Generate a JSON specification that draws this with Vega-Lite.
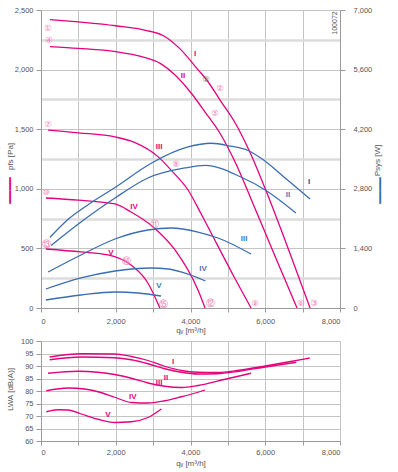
{
  "$schema": "https://vega.github.io/schema/vega-lite/v6.json",
  "autosize": {"type": "pad"},
  "padding": {"left": 4, "top": 6, "right": 5, "bottom": 5},
  "spacing": 2,
  "config": {
    "view": {"stroke": null},
    "font": "Liberation Sans",
    "axis": {
      "labelFont": "Liberation Sans", "labelFontSize": 7.5, "labelColor": "#555555", "labelOverlap": false,
      "titleFont": "Liberation Sans", "titleFontSize": 8, "titleColor": "#555555", "titleFontWeight": "normal",
      "domainColor": "#9a9a9a", "tickColor": "#9a9a9a", "gridColor": "#c4c4c4", "gridWidth": 1
    }
  },
  "datasets": {
    "pressure": [
      {"curve": "I", "q": 240, "p": 2420}, {"curve": "I", "q": 1000, "p": 2400}, {"curve": "I", "q": 2000, "p": 2368}, {"curve": "I", "q": 2800, "p": 2330}, {"curve": "I", "q": 3300, "p": 2280}, {"curve": "I", "q": 3700, "p": 2180}, {"curve": "I", "q": 4200, "p": 2000}, {"curve": "I", "q": 4415, "p": 1921}, {"curve": "I", "q": 4800, "p": 1740}, {"curve": "I", "q": 5200, "p": 1550}, {"curve": "I", "q": 5600, "p": 1300}, {"curve": "I", "q": 6000, "p": 1000}, {"curve": "I", "q": 6600, "p": 510}, {"curve": "I", "q": 7200, "p": 0},
      {"curve": "II", "q": 240, "p": 2193}, {"curve": "II", "q": 1000, "p": 2178}, {"curve": "II", "q": 2000, "p": 2150}, {"curve": "II", "q": 2700, "p": 2108}, {"curve": "II", "q": 3200, "p": 2050}, {"curve": "II", "q": 3600, "p": 1950}, {"curve": "II", "q": 4000, "p": 1810}, {"curve": "II", "q": 4400, "p": 1640}, {"curve": "II", "q": 4800, "p": 1460}, {"curve": "II", "q": 5200, "p": 1220}, {"curve": "II", "q": 5600, "p": 930}, {"curve": "II", "q": 6200, "p": 480}, {"curve": "II", "q": 6850, "p": 0},
      {"curve": "III", "q": 190, "p": 1493}, {"curve": "III", "q": 1000, "p": 1470}, {"curve": "III", "q": 1980, "p": 1435}, {"curve": "III", "q": 2500, "p": 1390}, {"curve": "III", "q": 3130, "p": 1270}, {"curve": "III", "q": 3500, "p": 1150}, {"curve": "III", "q": 3934, "p": 990}, {"curve": "III", "q": 4300, "p": 780}, {"curve": "III", "q": 4700, "p": 540}, {"curve": "III", "q": 5150, "p": 270}, {"curve": "III", "q": 5620, "p": 0},
      {"curve": "IV", "q": 130, "p": 923}, {"curve": "IV", "q": 1000, "p": 905}, {"curve": "IV", "q": 1980, "p": 873}, {"curve": "IV", "q": 2410, "p": 805}, {"curve": "IV", "q": 3000, "p": 680}, {"curve": "IV", "q": 3586, "p": 487}, {"curve": "IV", "q": 4200, "p": 151}, {"curve": "IV", "q": 4390, "p": 0},
      {"curve": "V", "q": 130, "p": 495}, {"curve": "V", "q": 1070, "p": 470}, {"curve": "V", "q": 1790, "p": 445}, {"curve": "V", "q": 2410, "p": 360}, {"curve": "V", "q": 2860, "p": 210}, {"curve": "V", "q": 3180, "p": 0}
    ],
    "power": [
      {"curve": "I", "q": 240, "w": 1660}, {"curve": "I", "q": 720, "w": 2080}, {"curve": "I", "q": 1300, "w": 2450}, {"curve": "I", "q": 1980, "w": 2830}, {"curve": "I", "q": 2950, "w": 3400}, {"curve": "I", "q": 3934, "w": 3782}, {"curve": "I", "q": 4550, "w": 3870}, {"curve": "I", "q": 5080, "w": 3800}, {"curve": "I", "q": 5540, "w": 3700}, {"curve": "I", "q": 5900, "w": 3510}, {"curve": "I", "q": 6500, "w": 3080}, {"curve": "I", "q": 7200, "w": 2560},
      {"curve": "II", "q": 270, "w": 1470}, {"curve": "II", "q": 1070, "w": 2020}, {"curve": "II", "q": 1980, "w": 2584}, {"curve": "II", "q": 2860, "w": 3054}, {"curve": "II", "q": 3850, "w": 3289}, {"curve": "II", "q": 4390, "w": 3350}, {"curve": "II", "q": 5350, "w": 3077}, {"curve": "II", "q": 6000, "w": 2772}, {"curve": "II", "q": 6820, "w": 2232},
      {"curve": "III", "q": 190, "w": 846}, {"curve": "III", "q": 1070, "w": 1245}, {"curve": "III", "q": 1980, "w": 1621}, {"curve": "III", "q": 2860, "w": 1832}, {"curve": "III", "q": 3480, "w": 1879}, {"curve": "III", "q": 4200, "w": 1785}, {"curve": "III", "q": 4737, "w": 1644}, {"curve": "III", "q": 5620, "w": 1268},
      {"curve": "IV", "q": 130, "w": 446}, {"curve": "IV", "q": 1070, "w": 705}, {"curve": "IV", "q": 1980, "w": 869}, {"curve": "IV", "q": 2950, "w": 940}, {"curve": "IV", "q": 3400, "w": 916}, {"curve": "IV", "q": 3750, "w": 846}, {"curve": "IV", "q": 4400, "w": 634},
      {"curve": "V", "q": 130, "w": 188}, {"curve": "V", "q": 1070, "w": 305}, {"curve": "V", "q": 1980, "w": 376}, {"curve": "V", "q": 2600, "w": 352}, {"curve": "V", "q": 3210, "w": 282}
    ],
    "noise": [
      {"curve": "I", "q": 232, "db": 93.6}, {"curve": "I", "q": 1080, "db": 94.9}, {"curve": "I", "q": 1971, "db": 94.8}, {"curve": "I", "q": 2418, "db": 93.8}, {"curve": "I", "q": 2864, "db": 92.2}, {"curve": "I", "q": 3310, "db": 89.9}, {"curve": "I", "q": 3757, "db": 88.2}, {"curve": "I", "q": 4203, "db": 87.5}, {"curve": "I", "q": 4700, "db": 87.4}, {"curve": "I", "q": 5300, "db": 88.3}, {"curve": "I", "q": 6000, "db": 90.0}, {"curve": "I", "q": 6600, "db": 91.6}, {"curve": "I", "q": 7190, "db": 93.2},
      {"curve": "II", "q": 232, "db": 92.5}, {"curve": "II", "q": 1080, "db": 93.6}, {"curve": "II", "q": 1971, "db": 93.3}, {"curve": "II", "q": 2418, "db": 92.5}, {"curve": "II", "q": 2864, "db": 90.9}, {"curve": "II", "q": 3310, "db": 88.9}, {"curve": "II", "q": 3757, "db": 87.5}, {"curve": "II", "q": 4203, "db": 86.8}, {"curve": "II", "q": 4700, "db": 86.9}, {"curve": "II", "q": 5300, "db": 87.9}, {"curve": "II", "q": 6000, "db": 89.6}, {"curve": "II", "q": 6830, "db": 91.5},
      {"curve": "III", "q": 187, "db": 87.1}, {"curve": "III", "q": 990, "db": 87.9}, {"curve": "III", "q": 1525, "db": 87.5}, {"curve": "III", "q": 1971, "db": 86.6}, {"curve": "III", "q": 2418, "db": 85.1}, {"curve": "III", "q": 2864, "db": 83.2}, {"curve": "III", "q": 3310, "db": 81.9}, {"curve": "III", "q": 3757, "db": 81.4}, {"curve": "III", "q": 4203, "db": 82.2}, {"curve": "III", "q": 4900, "db": 84.6}, {"curve": "III", "q": 5620, "db": 87.1},
      {"curve": "IV", "q": 143, "db": 80.1}, {"curve": "IV", "q": 723, "db": 81.2}, {"curve": "IV", "q": 1170, "db": 80.8}, {"curve": "IV", "q": 1525, "db": 79.7}, {"curve": "IV", "q": 1971, "db": 77.5}, {"curve": "IV", "q": 2418, "db": 75.4}, {"curve": "IV", "q": 2864, "db": 75.2}, {"curve": "IV", "q": 3310, "db": 76.1}, {"curve": "IV", "q": 3757, "db": 77.7}, {"curve": "IV", "q": 4203, "db": 79.5}, {"curve": "IV", "q": 4390, "db": 80.4},
      {"curve": "V", "q": 143, "db": 71.7}, {"curve": "V", "q": 455, "db": 72.5}, {"curve": "V", "q": 723, "db": 72.4}, {"curve": "V", "q": 1080, "db": 70.8}, {"curve": "V", "q": 1525, "db": 68.7}, {"curve": "V", "q": 1971, "db": 67.4}, {"curve": "V", "q": 2418, "db": 67.7}, {"curve": "V", "q": 2864, "db": 69.4}, {"curve": "V", "q": 3220, "db": 72.8}
    ],
    "points": [
      {"t": "①", "q": 187, "p": 2349, "c": "#f27fb7"}, {"t": "④", "q": 214, "p": 2249, "c": "#f27fb7"}, {"t": "⑦", "q": 187, "p": 1544, "c": "#f27fb7"}, {"t": "⑩", "q": 134, "p": 973, "c": "#f27fb7"}, {"t": "⑬", "q": 134, "p": 537, "c": "#f27fb7"},
      {"t": "②", "q": 4790, "p": 1846, "c": "#f27fb7"}, {"t": "⑤", "q": 4656, "p": 1636, "c": "#f27fb7"}, {"t": "⑧", "q": 3613, "p": 1208, "c": "#f27fb7"}, {"t": "⑪", "q": 3024, "p": 705, "c": "#f27fb7"}, {"t": "⑭", "q": 2275, "p": 394, "c": "#f27fb7"},
      {"t": "③", "q": 7305, "p": 42, "c": "#f27fb7"}, {"t": "⑥", "q": 6958, "p": 42, "c": "#f27fb7"}, {"t": "⑨", "q": 5727, "p": 42, "c": "#f27fb7"}, {"t": "⑫", "q": 4522, "p": 42, "c": "#f27fb7"}, {"t": "⑮", "q": 3265, "p": 34, "c": "#f27fb7"},
      {"t": "⑨", "q": 4415, "p": 1921, "c": "#777777"}
    ],
    "pressureLabels": [
      {"t": "I", "q": 4121, "p": 2131}, {"t": "II", "q": 3800, "p": 1946}, {"t": "III", "q": 3158, "p": 1351}, {"t": "IV", "q": 2489, "p": 847}, {"t": "V", "q": 1873, "p": 461}
    ],
    "powerLabels": [
      {"t": "I", "q": 7172, "w": 2960, "c": "#1f4f9e"}, {"t": "II", "q": 6610, "w": 2654, "c": "#4a78bd"}, {"t": "III", "q": 5432, "w": 1621, "c": "#4a78bd"}, {"t": "IV", "q": 4335, "w": 916, "c": "#4a78bd"}, {"t": "V", "q": 3158, "w": 517, "c": "#4a78bd"}
    ],
    "code": [{"t": "100072", "q": 7870, "p": 2391}],
    "noiseLabels": [
      {"t": "I", "q": 3532, "db": 91.5}, {"t": "II", "q": 3345, "db": 85.2}, {"t": "III", "q": 3158, "db": 83.4}, {"t": "IV", "q": 2454, "db": 77.7}, {"t": "V", "q": 1793, "db": 70.3}
    ]
  },
  "vconcat": [
    {
      "width": 299,
      "height": 298,
      "encoding": {
        "x": {"field": "q", "type": "quantitative",
          "scale": {"domain": [0, 8000], "nice": false},
          "axis": {"values": [0, 1000, 2000, 3000, 4000, 5000, 6000, 7000, 8000],
            "labelExpr": "datum.value % 2000 == 0 ? format(datum.value, ',') : ''",
            "tickSize": 4, "labelPadding": 5, "title": "qᵥ [m³/h]", "titlePadding": 2}}
      },
      "layer": [
        {
          "data": {"name": "pressure"},
          "mark": {"type": "line", "interpolate": "monotone", "color": "#e5007d", "strokeWidth": 1.3},
          "encoding": {
            "y": {"field": "p", "type": "quantitative", "scale": {"domain": [0, 2500], "nice": false},
              "axis": {"orient": "left", "values": [0, 250, 500, 750, 1000, 1250, 1500, 1750, 2000, 2250, 2500],
                "labelExpr": "datum.value % 500 == 0 ? format(datum.value, ',') : ''",
                "tickSize": 5, "labelPadding": 3,
                "tickOpacity": {"condition": {"test": "datum.value % 500 != 0", "value": 0}, "value": 1},
                "gridColor": {"condition": {"test": "datum.value % 500 != 0", "value": "#dcdcdc"}, "value": "#c4c4c4"},
                "gridWidth": {"condition": {"test": "datum.value % 500 != 0", "value": 2.5}, "value": 1},
                "title": "pfs [Pa]", "titleAngle": 270, "titleX": -31, "titleY": 146, "titleBaseline": "middle", "titleAlign": "center"}},
            "detail": {"field": "curve"}
          }
        },
        {
          "data": {"name": "power"},
          "mark": {"type": "line", "interpolate": "monotone", "color": "#3b6db3", "strokeWidth": 1.3},
          "encoding": {
            "y": {"field": "w", "type": "quantitative", "scale": {"domain": [0, 7000], "nice": false},
              "axis": {"orient": "right", "values": [0, 1400, 2800, 4200, 5600, 7000],
                "labelExpr": "format(datum.value, ',')", "grid": false,
                "tickSize": 5, "labelPadding": 8,
                "title": "Psys [W]", "titleAngle": 270, "titleX": 37, "titleY": 150, "titleBaseline": "middle", "titleAlign": "center"}},
            "detail": {"field": "curve"}
          }
        },
        {
          "data": {"name": "points"},
          "mark": {"type": "text", "font": "DejaVu Sans", "fontSize": 8.5, "align": "center", "baseline": "middle"},
          "encoding": {
            "y": {"field": "p", "type": "quantitative", "scale": {"domain": [0, 2500], "nice": false},
              "axis": {"orient": "left", "labels": false, "ticks": false, "domain": false, "grid": false,
                "title": "━━━━", "titleFont": "DejaVu Sans", "titleFontSize": 11, "titleColor": "#e5007d",
                "titleAngle": 270, "titleX": -31, "titleY": 180, "titleBaseline": "middle", "titleAlign": "center"}},
            "text": {"field": "t"},
            "color": {"field": "c", "type": "nominal", "scale": null}
          }
        },
        {
          "data": {"name": "pressureLabels"},
          "mark": {"type": "text", "font": "Liberation Sans", "fontSize": 8, "fontWeight": "bold", "color": "#e5007d", "align": "center", "baseline": "middle"},
          "encoding": {
            "y": {"field": "p", "type": "quantitative", "scale": {"domain": [0, 2500], "nice": false}, "axis": null},
            "text": {"field": "t"}
          }
        },
        {
          "data": {"name": "powerLabels"},
          "mark": {"type": "text", "font": "Liberation Sans", "fontSize": 8, "fontWeight": "bold", "align": "center", "baseline": "middle"},
          "encoding": {
            "y": {"field": "w", "type": "quantitative", "scale": {"domain": [0, 7000], "nice": false},
              "axis": {"orient": "right", "labels": false, "ticks": false, "domain": false, "grid": false,
                "title": "━━━━", "titleFont": "DejaVu Sans", "titleFontSize": 11, "titleColor": "#3b6db3",
                "titleAngle": 270, "titleX": 40, "titleY": 180, "titleBaseline": "middle", "titleAlign": "center"}},
            "text": {"field": "t"},
            "color": {"field": "c", "type": "nominal", "scale": null}
          }
        },
        {
          "data": {"name": "code"},
          "mark": {"type": "text", "font": "Liberation Sans", "fontSize": 7, "color": "#555555", "angle": 270, "align": "center", "baseline": "middle"},
          "encoding": {
            "y": {"field": "p", "type": "quantitative", "scale": {"domain": [0, 2500], "nice": false}, "axis": null},
            "text": {"field": "t"}
          }
        }
      ],
      "resolve": {"scale": {"y": "independent"}, "axis": {"y": "independent"}}
    },
    {
      "width": 299,
      "height": 100,
      "encoding": {
        "x": {"field": "q", "type": "quantitative",
          "scale": {"domain": [0, 8000], "nice": false},
          "axis": {"values": [0, 1000, 2000, 3000, 4000, 5000, 6000, 7000, 8000],
            "labelExpr": "datum.value % 2000 == 0 ? format(datum.value, ',') : ''",
            "tickSize": 4, "labelPadding": 3, "title": "qᵥ [m³/h]", "titlePadding": 4}},
        "y": {"field": "db", "type": "quantitative", "scale": {"domain": [60, 100], "nice": false},
          "axis": {"values": [60, 65, 70, 75, 80, 85, 90, 95, 100], "labelOverlap": false, "tickSize": 5, "labelPadding": 3,
            "title": "LWA [dB(A)]", "titleAngle": 270, "titleX": -31, "titleY": 48, "titleBaseline": "middle", "titleAlign": "center"}}
      },
      "layer": [
        {
          "data": {"name": "noise"},
          "mark": {"type": "line", "interpolate": "monotone", "color": "#e5007d", "strokeWidth": 1.3},
          "encoding": {
            "detail": {"field": "curve"}
          }
        },
        {
          "data": {"name": "noiseLabels"},
          "mark": {"type": "text", "font": "Liberation Sans", "fontSize": 8, "fontWeight": "bold", "color": "#e5007d", "align": "center", "baseline": "middle"},
          "encoding": {
            "text": {"field": "t"}
          }
        }
      ]
    }
  ]
}
